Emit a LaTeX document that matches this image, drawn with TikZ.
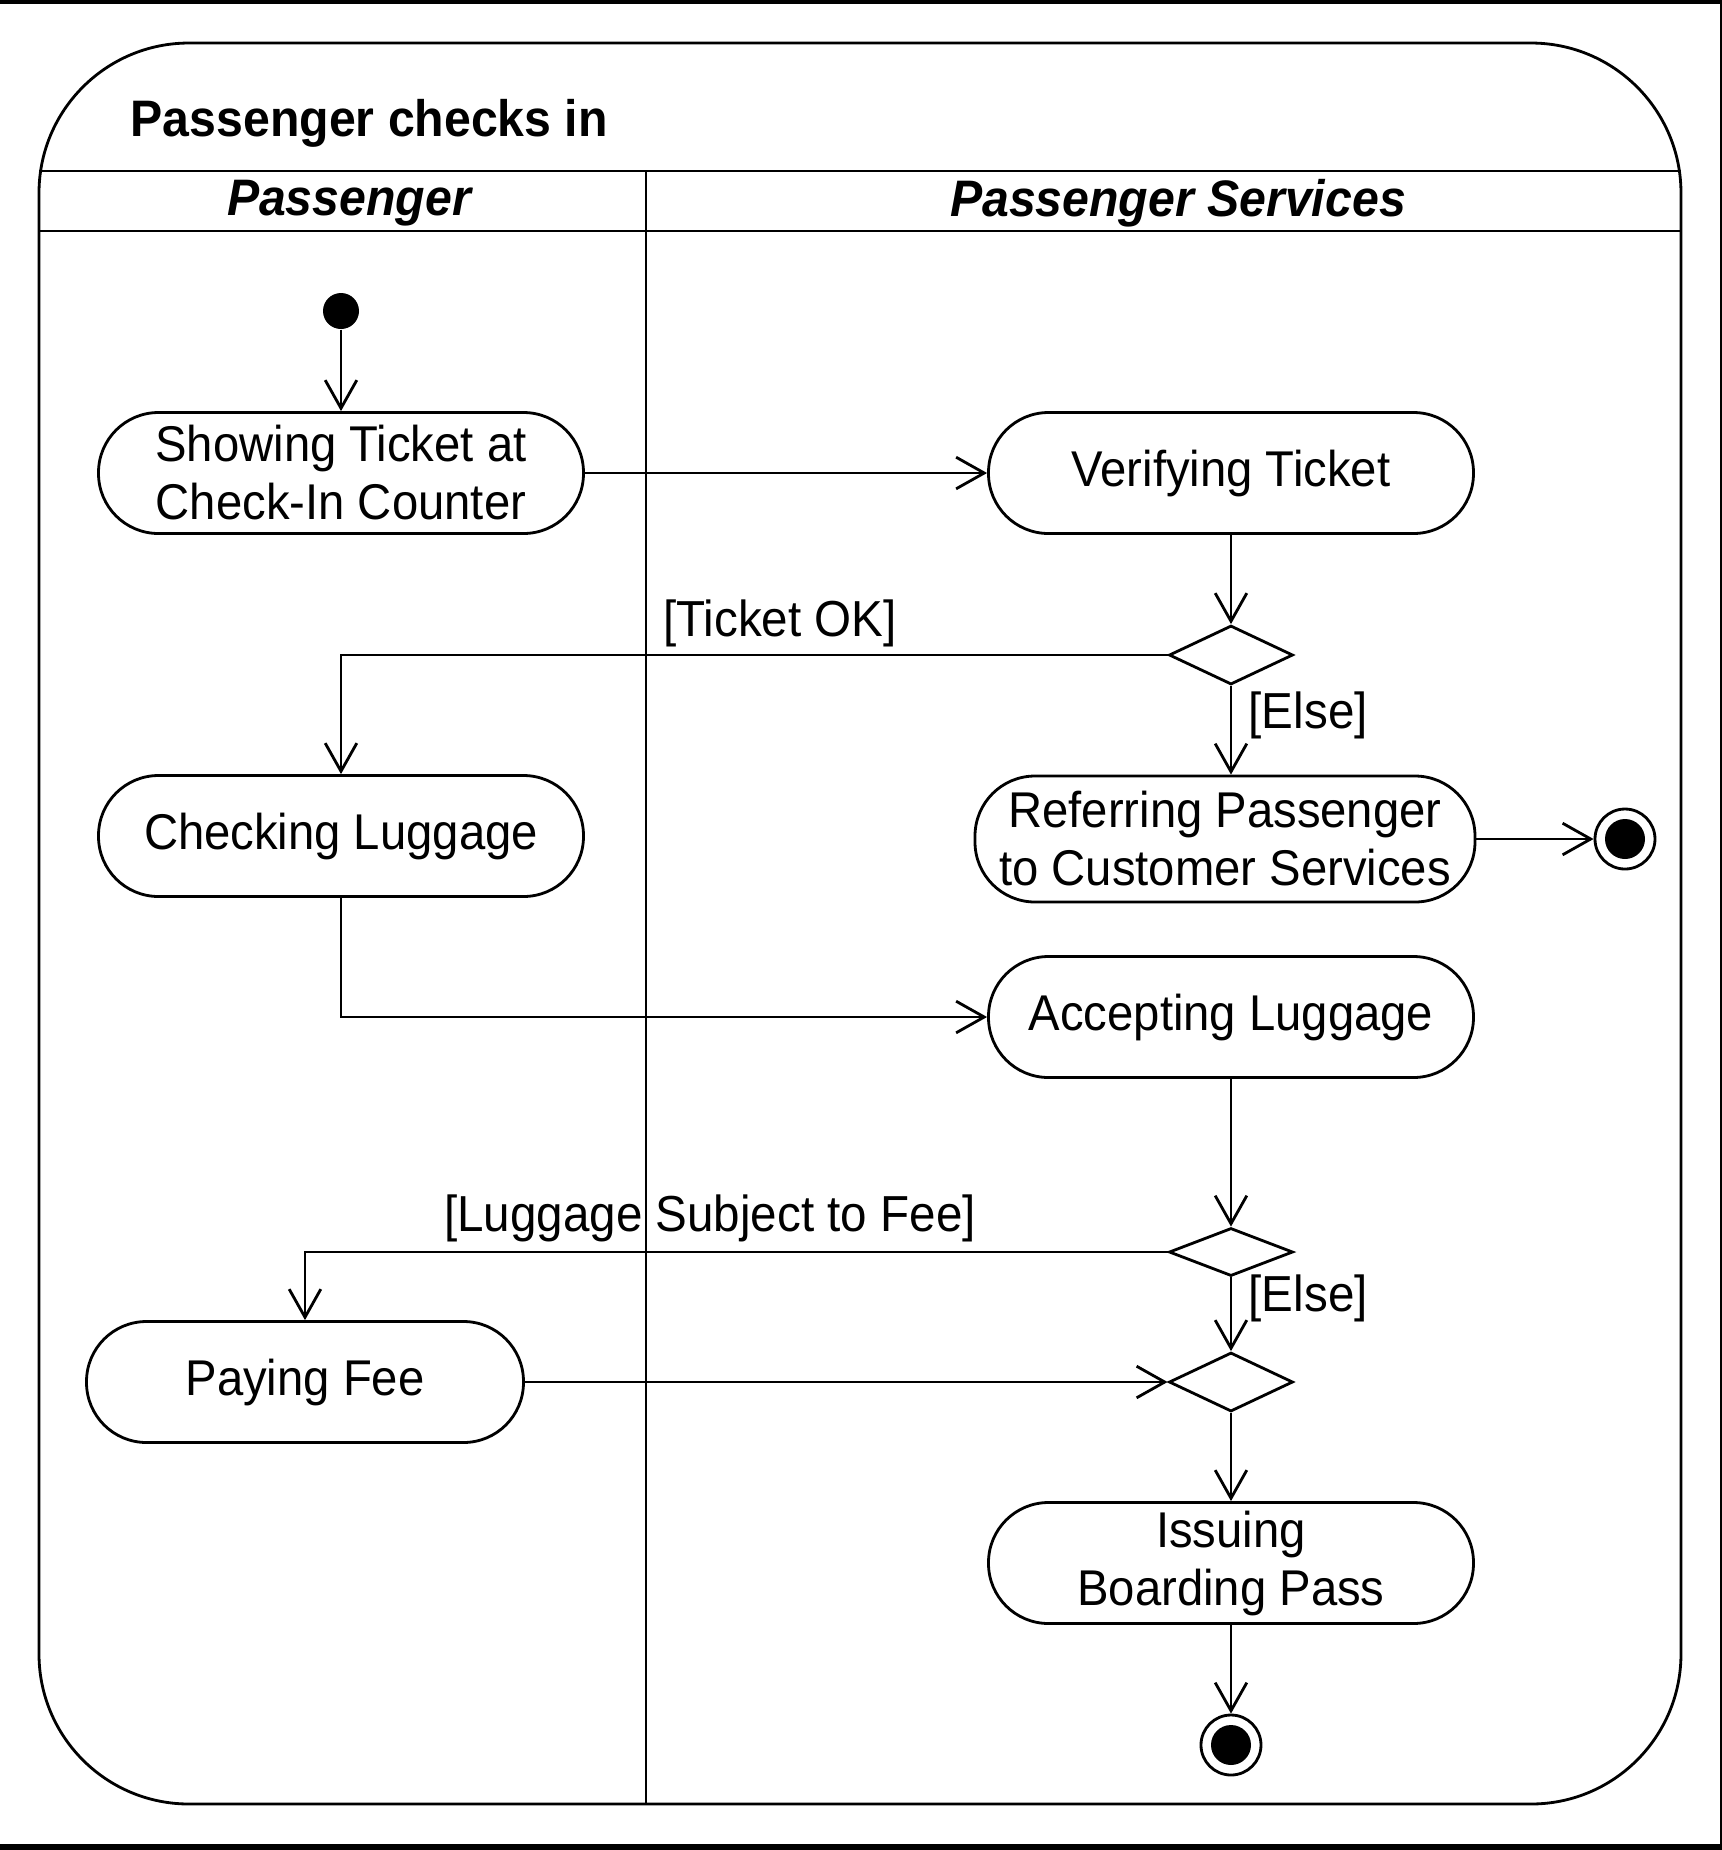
\documentclass[tikz,border=0pt]{standalone}
\usepackage{fontspec}
\setmainfont[FakeStretch=0.94]{Liberation Sans}
\usetikzlibrary{arrows.meta,shapes.geometric}
\tikzset{
  action/.style={draw, line width=0.8pt, rounded corners=6mm, minimum width=48.5mm, minimum height=12.1mm, inner sep=0pt, align=center, font=\fontsize{14.3}{16.5}\selectfont},
  decision/.style={draw, diamond, line width=0.8pt, inner sep=0pt, minimum width=12.4mm, minimum height=5.9mm},
  guard/.style={inner sep=0pt, font=\fontsize{14.4}{16.5}\selectfont},
  flow/.style={line width=0.8pt, -{Straight Barb[length=8pt, width=9pt]}},
  startdot/.style={circle, fill, minimum size=3.6mm, inner sep=0pt},
  enddot/.style={circle, draw, line width=0.8pt, minimum size=6mm, inner sep=0pt, path picture={\fill (path picture bounding box.center) circle (2mm);}},
  lanehead/.style={inner sep=0pt, font=\fontsize{14.6}{17}\selectfont\bfseries\itshape}
}
\begin{document}
\begin{tikzpicture}[x=0.1mm, y=-0.1mm]
\useasboundingbox (0,0) rectangle (1722,1850);
\draw[line width=1.2pt] (0,2) -- (1722,2);
\draw[line width=1.7pt] (0,1847) -- (1722,1847);
\draw[line width=0.6pt] (1721,0) -- (1721,1850);
\draw[line width=0.8pt, rounded corners=15mm] (39,43) rectangle (1681,1804);
\draw[line width=0.8pt] (39,171) -- (1681,171);
\draw[line width=0.8pt] (39,231) -- (1681,231);
\draw[line width=0.8pt] (646,171) -- (646,1804);
\node[anchor=west, inner sep=0pt, font=\fontsize{14.6}{17}\selectfont\bfseries] (title) at (130,123) {Passenger checks in};
\node[lanehead] (laneA) at (349,203) {Passenger};
\node[lanehead] (laneB) at (1178,203) {Passenger Services};
\node[startdot] (init) at (341,311) {};
\node[action] (show) at (341,473) {Showing Ticket at\\Check-In Counter};
\node[action] (verify) at (1231,473) {Verifying Ticket};
\draw[flow] (init) -- (show);
\draw[flow] (show) -- (verify);
\node[decision] (okq) at (1231,655) {};
\draw[flow] (verify) -- (okq);
\node[action] (check) at (341,836) {Checking Luggage};
\node[action, minimum width=50mm, minimum height=12.6mm] (refer) at (1225,839) {Referring Passenger\\to Customer Services};
\node[enddot] (endA) at (1625,839) {};
\node[guard] (okLbl) at (780,623) {[Ticket OK]};
\node[guard, anchor=west] (elseA) at (1248,715) {[Else]};
\draw[flow] (okq.west) -| (check.north);
\draw[flow] (okq.south) -- (okq.south |- refer.north);
\draw[flow] (refer) -- (endA);
\node[action] (accept) at (1231,1017) {Accepting Luggage};
\draw[flow] (check) |- (accept);
\node[decision, minimum height=4.8mm] (feeq) at (1231,1252) {};
\node[decision] (merge) at (1231,1382) {};
\node[action, minimum width=43.7mm] (pay) at (305,1382) {Paying Fee};
\node[guard] (feeLbl) at (710,1218) {[Luggage Subject to Fee]};
\node[guard, anchor=west] (elseB) at (1248,1298) {[Else]};
\draw[flow] (accept) -- (feeq);
\draw[flow] (feeq.west) -| (pay.north);
\draw[flow] (feeq) -- (merge);
\draw[flow] (pay) -- (merge);
\node[action] (issue) at (1231,1563) {Issuing\\Boarding Pass};
\node[enddot] (endB) at (1231,1745) {};
\draw[flow] (merge) -- (issue);
\draw[flow] (issue) -- (endB);
\end{tikzpicture}
\end{document}
